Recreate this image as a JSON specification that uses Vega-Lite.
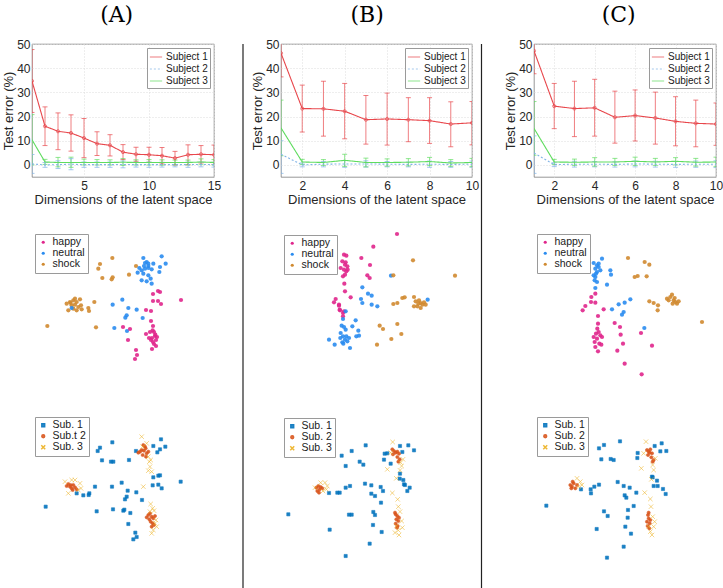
{
"$schema": "https://vega.github.io/schema/vega-lite/v6.json",
"background": "white",
"padding": {"left": 2, "top": 3, "right": 0, "bottom": 0},
"config": {
 "view": {"stroke": "#6a6a6a", "strokeWidth": 0.7},
 "axis": {"labelFont": "Liberation Sans", "titleFont": "Liberation Sans", "labelFontSize": 12, "titleFontSize": 13, "labelColor": "#262626", "titleColor": "#262626", "titleFontWeight": "normal", "gridColor": "#dcdcdc", "gridDash": [1, 2], "ticks": false, "domain": false, "labelPadding": 2, "titlePadding": 1},
 "axisX": {"labelPadding": 3, "titlePadding": 2},
 "legend": {"labelFont": "Liberation Sans", "labelColor": "#1a1a1a"},
 "title": {"font": "DejaVu Serif", "fontSize": 22, "fontWeight": "normal", "color": "#000000"}
},
"datasets": {
 "err": [
  {"p":"A","s":"Subject 1","d":1,"e":34.7,"lo":21.7,"hi":47.7},{"p":"A","s":"Subject 1","d":2,"e":16,"lo":8,"hi":24},{"p":"A","s":"Subject 1","d":3,"e":13.9,"lo":6.3,"hi":21.5},{"p":"A","s":"Subject 1","d":4,"e":13.2,"lo":5.7,"hi":20.7},{"p":"A","s":"Subject 1","d":5,"e":11.1,"lo":3,"hi":19.2},{"p":"A","s":"Subject 1","d":6,"e":8.8,"lo":3.9,"hi":13.7},{"p":"A","s":"Subject 1","d":7,"e":8.1,"lo":3.7,"hi":12.5},{"p":"A","s":"Subject 1","d":8,"e":5.3,"lo":2.2,"hi":8.4},{"p":"A","s":"Subject 1","d":9,"e":4.4,"lo":1.5,"hi":7.3},{"p":"A","s":"Subject 1","d":10,"e":4.2,"lo":1.1,"hi":7.3},{"p":"A","s":"Subject 1","d":11,"e":3.8,"lo":0.4,"hi":7.2},{"p":"A","s":"Subject 1","d":12,"e":2.8,"lo":0,"hi":5.6},{"p":"A","s":"Subject 1","d":13,"e":4.2,"lo":0.1,"hi":8.3},{"p":"A","s":"Subject 1","d":14,"e":4.4,"lo":0.8,"hi":8},{"p":"A","s":"Subject 1","d":15,"e":4.2,"lo":0.2,"hi":8.2},
  {"p":"A","s":"Subject 2","d":1,"e":0.4,"lo":-3.5,"hi":4.3},{"p":"A","s":"Subject 2","d":2,"e":0,"lo":-1,"hi":1},{"p":"A","s":"Subject 2","d":3,"e":0.1,"lo":-1.5,"hi":1.7},{"p":"A","s":"Subject 2","d":4,"e":0.3,"lo":-2,"hi":2.6},{"p":"A","s":"Subject 2","d":5,"e":0.1,"lo":-1,"hi":1.2},{"p":"A","s":"Subject 2","d":6,"e":0.1,"lo":-1,"hi":1.2},{"p":"A","s":"Subject 2","d":7,"e":0.1,"lo":-1,"hi":1.2},{"p":"A","s":"Subject 2","d":8,"e":0.2,"lo":-1.2,"hi":1.6},{"p":"A","s":"Subject 2","d":9,"e":0.1,"lo":-0.9,"hi":1.1},{"p":"A","s":"Subject 2","d":10,"e":0.1,"lo":-1,"hi":1.2},{"p":"A","s":"Subject 2","d":11,"e":0.1,"lo":-0.9,"hi":1.1},{"p":"A","s":"Subject 2","d":12,"e":0.1,"lo":-0.8,"hi":1},{"p":"A","s":"Subject 2","d":13,"e":0.1,"lo":-1,"hi":1.2},{"p":"A","s":"Subject 2","d":14,"e":0.2,"lo":-0.8,"hi":1.2},{"p":"A","s":"Subject 2","d":15,"e":0.1,"lo":-0.9,"hi":1.1},
  {"p":"A","s":"Subject 3","d":1,"e":10.4,"lo":0,"hi":20.8},{"p":"A","s":"Subject 3","d":2,"e":1.2,"lo":0.2,"hi":2.3},{"p":"A","s":"Subject 3","d":3,"e":1,"lo":-0.8,"hi":3.1},{"p":"A","s":"Subject 3","d":4,"e":1,"lo":-1,"hi":3.2},{"p":"A","s":"Subject 3","d":5,"e":1,"lo":0,"hi":2.4},{"p":"A","s":"Subject 3","d":6,"e":1,"lo":0,"hi":2.2},{"p":"A","s":"Subject 3","d":7,"e":1,"lo":0,"hi":2.1},{"p":"A","s":"Subject 3","d":8,"e":1.1,"lo":-0.2,"hi":2.6},{"p":"A","s":"Subject 3","d":9,"e":1,"lo":0,"hi":2.1},{"p":"A","s":"Subject 3","d":10,"e":1,"lo":0,"hi":2.2},{"p":"A","s":"Subject 3","d":11,"e":1,"lo":-0.1,"hi":2.1},{"p":"A","s":"Subject 3","d":12,"e":1,"lo":0,"hi":2},{"p":"A","s":"Subject 3","d":13,"e":1,"lo":0,"hi":2},{"p":"A","s":"Subject 3","d":14,"e":1.2,"lo":0.1,"hi":2.5},{"p":"A","s":"Subject 3","d":15,"e":1,"lo":0,"hi":2.2},
  {"p":"B","s":"Subject 1","d":1,"e":46.2,"lo":36.4,"hi":56},{"p":"B","s":"Subject 1","d":2,"e":23.3,"lo":13.6,"hi":33},{"p":"B","s":"Subject 1","d":3,"e":23.2,"lo":11.9,"hi":34.6},{"p":"B","s":"Subject 1","d":4,"e":22.2,"lo":10.8,"hi":33.7},{"p":"B","s":"Subject 1","d":5,"e":18.7,"lo":8.6,"hi":28.7},{"p":"B","s":"Subject 1","d":6,"e":19,"lo":8.2,"hi":29.7},{"p":"B","s":"Subject 1","d":7,"e":18.7,"lo":9.6,"hi":27.8},{"p":"B","s":"Subject 1","d":8,"e":18.3,"lo":8.9,"hi":27.8},{"p":"B","s":"Subject 1","d":9,"e":16.9,"lo":7.5,"hi":26.1},{"p":"B","s":"Subject 1","d":10,"e":17.4,"lo":8.3,"hi":26.2},
  {"p":"B","s":"Subject 2","d":1,"e":4.4,"lo":-3.5,"hi":10},{"p":"B","s":"Subject 2","d":2,"e":0,"lo":-0.8,"hi":0.8},{"p":"B","s":"Subject 2","d":3,"e":0.3,"lo":-0.8,"hi":1.4},{"p":"B","s":"Subject 2","d":4,"e":0.4,"lo":-1,"hi":1.8},{"p":"B","s":"Subject 2","d":5,"e":0.4,"lo":-0.9,"hi":1.7},{"p":"B","s":"Subject 2","d":6,"e":0.3,"lo":-0.8,"hi":1.4},{"p":"B","s":"Subject 2","d":7,"e":0.2,"lo":-0.8,"hi":1.2},{"p":"B","s":"Subject 2","d":8,"e":0.3,"lo":-1,"hi":1.6},{"p":"B","s":"Subject 2","d":9,"e":0.2,"lo":-1,"hi":1.4},{"p":"B","s":"Subject 2","d":10,"e":0.3,"lo":-1,"hi":1.6},
  {"p":"B","s":"Subject 3","d":1,"e":15.3,"lo":3.8,"hi":26.8},{"p":"B","s":"Subject 3","d":2,"e":1.2,"lo":0.2,"hi":2.3},{"p":"B","s":"Subject 3","d":3,"e":1,"lo":-0.2,"hi":2.2},{"p":"B","s":"Subject 3","d":4,"e":1.9,"lo":-0.6,"hi":4.4},{"p":"B","s":"Subject 3","d":5,"e":1,"lo":-0.8,"hi":2.8},{"p":"B","s":"Subject 3","d":6,"e":1,"lo":-0.5,"hi":2.5},{"p":"B","s":"Subject 3","d":7,"e":1.1,"lo":-0.4,"hi":2.6},{"p":"B","s":"Subject 3","d":8,"e":1.4,"lo":-0.3,"hi":3.1},{"p":"B","s":"Subject 3","d":9,"e":0.8,"lo":-0.6,"hi":2.2},{"p":"B","s":"Subject 3","d":10,"e":1,"lo":-0.7,"hi":2.7},
  {"p":"C","s":"Subject 1","d":1,"e":47.2,"lo":37.7,"hi":56.7},{"p":"C","s":"Subject 1","d":2,"e":24.3,"lo":15,"hi":33.7},{"p":"C","s":"Subject 1","d":3,"e":23.3,"lo":11.7,"hi":34.6},{"p":"C","s":"Subject 1","d":4,"e":23.6,"lo":11.9,"hi":35.4},{"p":"C","s":"Subject 1","d":5,"e":19.7,"lo":9,"hi":30.5},{"p":"C","s":"Subject 1","d":6,"e":20.4,"lo":9.9,"hi":31},{"p":"C","s":"Subject 1","d":7,"e":19.4,"lo":8.6,"hi":30.1},{"p":"C","s":"Subject 1","d":8,"e":18,"lo":7.9,"hi":28.2},{"p":"C","s":"Subject 1","d":9,"e":17.2,"lo":7.5,"hi":26.8},{"p":"C","s":"Subject 1","d":10,"e":16.9,"lo":8.1,"hi":25.6},
  {"p":"C","s":"Subject 2","d":1,"e":4.9,"lo":-3.5,"hi":12},{"p":"C","s":"Subject 2","d":2,"e":0.1,"lo":-0.7,"hi":0.9},{"p":"C","s":"Subject 2","d":3,"e":0.3,"lo":-0.9,"hi":1.5},{"p":"C","s":"Subject 2","d":4,"e":0.3,"lo":-0.8,"hi":1.4},{"p":"C","s":"Subject 2","d":5,"e":0.2,"lo":-0.9,"hi":1.3},{"p":"C","s":"Subject 2","d":6,"e":0.4,"lo":-0.8,"hi":1.6},{"p":"C","s":"Subject 2","d":7,"e":0.3,"lo":-0.9,"hi":1.5},{"p":"C","s":"Subject 2","d":8,"e":0.2,"lo":-1,"hi":1.4},{"p":"C","s":"Subject 2","d":9,"e":0.3,"lo":-1,"hi":1.6},{"p":"C","s":"Subject 2","d":10,"e":0.3,"lo":-1.1,"hi":1.7},
  {"p":"C","s":"Subject 3","d":1,"e":15.1,"lo":4,"hi":26.2},{"p":"C","s":"Subject 3","d":2,"e":1.2,"lo":0.2,"hi":2.3},{"p":"C","s":"Subject 3","d":3,"e":1.1,"lo":-0.2,"hi":2.4},{"p":"C","s":"Subject 3","d":4,"e":1.2,"lo":-0.5,"hi":3},{"p":"C","s":"Subject 3","d":5,"e":1.2,"lo":-0.2,"hi":2.7},{"p":"C","s":"Subject 3","d":6,"e":1.5,"lo":-0.2,"hi":3.2},{"p":"C","s":"Subject 3","d":7,"e":1.2,"lo":-0.2,"hi":2.7},{"p":"C","s":"Subject 3","d":8,"e":1.5,"lo":0,"hi":3},{"p":"C","s":"Subject 3","d":9,"e":1.1,"lo":-0.5,"hi":2.7},{"p":"C","s":"Subject 3","d":10,"e":1.2,"lo":-0.7,"hi":3.2}
 ],
 "emoA": [
  {"c":"shock","x":337,"y":168},{"c":"shock","x":300,"y":186},{"c":"shock","x":295,"y":200},{"c":"shock","x":307,"y":228},{"c":"shock","x":335,"y":232},{"c":"shock","x":338,"y":226},{"c":"shock","x":387,"y":218},{"c":"shock","x":408,"y":192},{"c":"shock","x":200,"y":305},{"c":"shock","x":210,"y":300},{"c":"shock","x":220,"y":295},{"c":"shock","x":225,"y":290},{"c":"shock","x":230,"y":300},{"c":"shock","x":215,"y":310},{"c":"shock","x":205,"y":325},{"c":"shock","x":220,"y":320},{"c":"shock","x":240,"y":292},{"c":"shock","x":243,"y":310},{"c":"shock","x":230,"y":325},{"c":"shock","x":245,"y":322},{"c":"shock","x":265,"y":318},{"c":"shock","x":267,"y":327},{"c":"shock","x":283,"y":300},{"c":"shock","x":142,"y":372},{"c":"shock","x":288,"y":376},{"c":"shock","x":212,"y":303},{"c":"shock","x":225,"y":308},{"c":"shock","x":235,"y":315},
  {"c":"neutral","x":430,"y":168},{"c":"neutral","x":485,"y":163},{"c":"neutral","x":440,"y":180},{"c":"neutral","x":445,"y":185},{"c":"neutral","x":435,"y":183},{"c":"neutral","x":460,"y":185},{"c":"neutral","x":497,"y":185},{"c":"neutral","x":418,"y":198},{"c":"neutral","x":425,"y":205},{"c":"neutral","x":435,"y":200},{"c":"neutral","x":445,"y":198},{"c":"neutral","x":455,"y":202},{"c":"neutral","x":480,"y":195},{"c":"neutral","x":478,"y":210},{"c":"neutral","x":413,"y":212},{"c":"neutral","x":430,"y":215},{"c":"neutral","x":445,"y":220},{"c":"neutral","x":452,"y":230},{"c":"neutral","x":440,"y":238},{"c":"neutral","x":425,"y":235},{"c":"neutral","x":455,"y":245},{"c":"neutral","x":445,"y":192},{"c":"neutral","x":432,"y":192},{"c":"neutral","x":367,"y":293},{"c":"neutral","x":338,"y":308},{"c":"neutral","x":385,"y":318},{"c":"neutral","x":410,"y":323},{"c":"neutral","x":380,"y":340},{"c":"neutral","x":376,"y":347},{"c":"neutral","x":428,"y":348},{"c":"neutral","x":343,"y":378},{"c":"neutral","x":381,"y":387},{"c":"neutral","x":215,"y":318},
  {"c":"happy","x":474,"y":267},{"c":"happy","x":459,"y":276},{"c":"happy","x":480,"y":270},{"c":"happy","x":543,"y":294},{"c":"happy","x":459,"y":297},{"c":"happy","x":474,"y":297},{"c":"happy","x":483,"y":306},{"c":"happy","x":438,"y":324},{"c":"happy","x":453,"y":327},{"c":"happy","x":453,"y":357},{"c":"happy","x":459,"y":372},{"c":"happy","x":369,"y":375},{"c":"happy","x":390,"y":381},{"c":"happy","x":438,"y":396},{"c":"happy","x":450,"y":390},{"c":"happy","x":462,"y":390},{"c":"happy","x":465,"y":402},{"c":"happy","x":456,"y":408},{"c":"happy","x":468,"y":414},{"c":"happy","x":453,"y":414},{"c":"happy","x":462,"y":426},{"c":"happy","x":456,"y":441},{"c":"happy","x":468,"y":432},{"c":"happy","x":384,"y":414},{"c":"happy","x":408,"y":444},{"c":"happy","x":411,"y":459},{"c":"happy","x":405,"y":471},{"c":"happy","x":447,"y":408},{"c":"happy","x":459,"y":420},{"c":"happy","x":471,"y":405},{"c":"happy","x":458,"y":385},{"c":"happy","x":466,"y":398}
 ],
 "emoB": [
  {"c":"happy","x":474,"y":93},{"c":"happy","x":403,"y":131},{"c":"happy","x":367,"y":165},{"c":"happy","x":393,"y":186},{"c":"happy","x":385,"y":217},{"c":"happy","x":392,"y":225},{"c":"happy","x":315,"y":155},{"c":"happy","x":322,"y":158},{"c":"happy","x":310,"y":175},{"c":"happy","x":318,"y":185},{"c":"happy","x":325,"y":190},{"c":"happy","x":305,"y":195},{"c":"happy","x":315,"y":200},{"c":"happy","x":322,"y":205},{"c":"happy","x":318,"y":215},{"c":"happy","x":312,"y":220},{"c":"happy","x":320,"y":178},{"c":"happy","x":326,"y":200},{"c":"happy","x":316,"y":242},{"c":"happy","x":318,"y":265},{"c":"happy","x":335,"y":283},{"c":"happy","x":290,"y":288},{"c":"happy","x":285,"y":298},{"c":"happy","x":300,"y":305},{"c":"happy","x":302,"y":320},{"c":"happy","x":315,"y":325},{"c":"happy","x":300,"y":308},{"c":"happy","x":303,"y":322},{"c":"happy","x":312,"y":330},{"c":"happy","x":312,"y":340},
  {"c":"neutral","x":456,"y":218},{"c":"neutral","x":370,"y":253},{"c":"neutral","x":387,"y":272},{"c":"neutral","x":398,"y":278},{"c":"neutral","x":366,"y":288},{"c":"neutral","x":370,"y":300},{"c":"neutral","x":398,"y":305},{"c":"neutral","x":415,"y":310},{"c":"neutral","x":566,"y":290},{"c":"neutral","x":320,"y":325},{"c":"neutral","x":312,"y":348},{"c":"neutral","x":350,"y":352},{"c":"neutral","x":308,"y":368},{"c":"neutral","x":315,"y":372},{"c":"neutral","x":320,"y":380},{"c":"neutral","x":305,"y":390},{"c":"neutral","x":312,"y":400},{"c":"neutral","x":322,"y":400},{"c":"neutral","x":330,"y":405},{"c":"neutral","x":318,"y":410},{"c":"neutral","x":325,"y":415},{"c":"neutral","x":310,"y":418},{"c":"neutral","x":358,"y":383},{"c":"neutral","x":352,"y":400},{"c":"neutral","x":360,"y":398},{"c":"neutral","x":270,"y":410},{"c":"neutral","x":287,"y":425},{"c":"neutral","x":313,"y":422},{"c":"neutral","x":333,"y":435},{"c":"neutral","x":304,"y":405},{"c":"neutral","x":340,"y":370},
  {"c":"shock","x":522,"y":172},{"c":"shock","x":648,"y":218},{"c":"shock","x":463,"y":217},{"c":"shock","x":525,"y":282},{"c":"shock","x":497,"y":283},{"c":"shock","x":490,"y":285},{"c":"shock","x":475,"y":300},{"c":"shock","x":463,"y":303},{"c":"shock","x":530,"y":295},{"c":"shock","x":540,"y":292},{"c":"shock","x":545,"y":300},{"c":"shock","x":550,"y":305},{"c":"shock","x":535,"y":310},{"c":"shock","x":555,"y":298},{"c":"shock","x":545,"y":315},{"c":"shock","x":525,"y":310},{"c":"shock","x":560,"y":305},{"c":"shock","x":538,"y":302},{"c":"shock","x":422,"y":368},{"c":"shock","x":432,"y":378},{"c":"shock","x":475,"y":363},{"c":"shock","x":487,"y":393},{"c":"shock","x":457,"y":408},{"c":"shock","x":414,"y":425}
 ],
 "emoC": [
  {"c":"neutral","x":360,"y":170},{"c":"neutral","x":335,"y":183},{"c":"neutral","x":345,"y":190},{"c":"neutral","x":350,"y":195},{"c":"neutral","x":340,"y":200},{"c":"neutral","x":355,"y":205},{"c":"neutral","x":345,"y":210},{"c":"neutral","x":335,"y":220},{"c":"neutral","x":340,"y":225},{"c":"neutral","x":338,"y":235},{"c":"neutral","x":345,"y":240},{"c":"neutral","x":340,"y":258},{"c":"neutral","x":320,"y":175},{"c":"neutral","x":385,"y":205},{"c":"neutral","x":387,"y":218},{"c":"neutral","x":375,"y":248},{"c":"neutral","x":318,"y":200},{"c":"neutral","x":445,"y":292},{"c":"neutral","x":428,"y":302},{"c":"neutral","x":410,"y":307},{"c":"neutral","x":390,"y":322},{"c":"neutral","x":425,"y":330},{"c":"neutral","x":420,"y":338},{"c":"neutral","x":487,"y":378},{"c":"neutral","x":350,"y":185},{"c":"neutral","x":342,"y":215},
  {"c":"happy","x":340,"y":275},{"c":"happy","x":328,"y":285},{"c":"happy","x":327,"y":300},{"c":"happy","x":340,"y":302},{"c":"happy","x":310,"y":312},{"c":"happy","x":302,"y":325},{"c":"happy","x":365,"y":322},{"c":"happy","x":348,"y":342},{"c":"happy","x":348,"y":365},{"c":"happy","x":398,"y":363},{"c":"happy","x":414,"y":375},{"c":"happy","x":416,"y":398},{"c":"happy","x":423,"y":425},{"c":"happy","x":406,"y":446},{"c":"happy","x":428,"y":485},{"c":"happy","x":479,"y":517},{"c":"happy","x":477,"y":393},{"c":"happy","x":510,"y":431},{"c":"happy","x":335,"y":405},{"c":"happy","x":342,"y":395},{"c":"happy","x":350,"y":390},{"c":"happy","x":355,"y":400},{"c":"happy","x":345,"y":410},{"c":"happy","x":360,"y":405},{"c":"happy","x":338,"y":420},{"c":"happy","x":352,"y":425},{"c":"happy","x":340,"y":435},{"c":"happy","x":348,"y":448},{"c":"happy","x":358,"y":428},{"c":"happy","x":346,"y":380},
  {"c":"shock","x":438,"y":168},{"c":"shock","x":488,"y":180},{"c":"shock","x":502,"y":188},{"c":"shock","x":458,"y":225},{"c":"shock","x":467,"y":222},{"c":"shock","x":494,"y":223},{"c":"shock","x":502,"y":298},{"c":"shock","x":515,"y":303},{"c":"shock","x":528,"y":310},{"c":"shock","x":527,"y":325},{"c":"shock","x":555,"y":290},{"c":"shock","x":565,"y":285},{"c":"shock","x":570,"y":278},{"c":"shock","x":575,"y":295},{"c":"shock","x":580,"y":300},{"c":"shock","x":585,"y":305},{"c":"shock","x":590,"y":298},{"c":"shock","x":560,"y":295},{"c":"shock","x":572,"y":305},{"c":"shock","x":578,"y":288},{"c":"shock","x":660,"y":360}
 ],
 "subA": [
  {"s":"Sub. 1","x":337,"y":187},{"s":"Sub. 1","x":300,"y":203},{"s":"Sub. 1","x":293,"y":213},{"s":"Sub. 1","x":306,"y":241},{"s":"Sub. 1","x":333,"y":245},{"s":"Sub. 1","x":340,"y":245},{"s":"Sub. 1","x":387,"y":240},{"s":"Sub. 1","x":408,"y":213},{"s":"Sub. 1","x":483,"y":178},{"s":"Sub. 1","x":460,"y":198},{"s":"Sub. 1","x":480,"y":208},{"s":"Sub. 1","x":496,"y":200},{"s":"Sub. 1","x":472,"y":217},{"s":"Sub. 1","x":460,"y":292},{"s":"Sub. 1","x":475,"y":287},{"s":"Sub. 1","x":480,"y":286},{"s":"Sub. 1","x":542,"y":305},{"s":"Sub. 1","x":458,"y":316},{"s":"Sub. 1","x":475,"y":314},{"s":"Sub. 1","x":485,"y":325},{"s":"Sub. 1","x":365,"y":308},{"s":"Sub. 1","x":336,"y":320},{"s":"Sub. 1","x":285,"y":320},{"s":"Sub. 1","x":268,"y":340},{"s":"Sub. 1","x":266,"y":345},{"s":"Sub. 1","x":250,"y":346},{"s":"Sub. 1","x":230,"y":340},{"s":"Sub. 1","x":383,"y":332},{"s":"Sub. 1","x":409,"y":337},{"s":"Sub. 1","x":380,"y":350},{"s":"Sub. 1","x":375,"y":358},{"s":"Sub. 1","x":426,"y":360},{"s":"Sub. 1","x":137,"y":380},{"s":"Sub. 1","x":290,"y":394},{"s":"Sub. 1","x":339,"y":388},{"s":"Sub. 1","x":370,"y":392},{"s":"Sub. 1","x":373,"y":389},{"s":"Sub. 1","x":391,"y":399},{"s":"Sub. 1","x":385,"y":432},{"s":"Sub. 1","x":406,"y":458},{"s":"Sub. 1","x":410,"y":471},{"s":"Sub. 1","x":400,"y":478},
  {"s":"Sub.t 2","x":430,"y":195},{"s":"Sub.t 2","x":435,"y":200},{"s":"Sub.t 2","x":425,"y":210},{"s":"Sub.t 2","x":420,"y":215},{"s":"Sub.t 2","x":432,"y":212},{"s":"Sub.t 2","x":440,"y":220},{"s":"Sub.t 2","x":445,"y":215},{"s":"Sub.t 2","x":438,"y":230},{"s":"Sub.t 2","x":428,"y":225},{"s":"Sub.t 2","x":415,"y":218},{"s":"Sub.t 2","x":437,"y":205},{"s":"Sub.t 2","x":200,"y":318},{"s":"Sub.t 2","x":205,"y":312},{"s":"Sub.t 2","x":210,"y":320},{"s":"Sub.t 2","x":215,"y":325},{"s":"Sub.t 2","x":220,"y":315},{"s":"Sub.t 2","x":225,"y":322},{"s":"Sub.t 2","x":212,"y":315},{"s":"Sub.t 2","x":230,"y":328},{"s":"Sub.t 2","x":218,"y":330},{"s":"Sub.t 2","x":445,"y":405},{"s":"Sub.t 2","x":450,"y":400},{"s":"Sub.t 2","x":455,"y":410},{"s":"Sub.t 2","x":460,"y":415},{"s":"Sub.t 2","x":448,"y":418},{"s":"Sub.t 2","x":452,"y":425},{"s":"Sub.t 2","x":458,"y":430},{"s":"Sub.t 2","x":462,"y":435},{"s":"Sub.t 2","x":455,"y":440},{"s":"Sub.t 2","x":465,"y":408},{"s":"Sub.t 2","x":440,"y":412},
  {"s":"Sub. 3","x":425,"y":170},{"s":"Sub. 3","x":445,"y":230},{"s":"Sub. 3","x":448,"y":245},{"s":"Sub. 3","x":450,"y":260},{"s":"Sub. 3","x":455,"y":275},{"s":"Sub. 3","x":445,"y":272},{"s":"Sub. 3","x":452,"y":240},{"s":"Sub. 3","x":440,"y":190},{"s":"Sub. 3","x":428,"y":200},{"s":"Sub. 3","x":195,"y":305},{"s":"Sub. 3","x":225,"y":300},{"s":"Sub. 3","x":240,"y":310},{"s":"Sub. 3","x":205,"y":340},{"s":"Sub. 3","x":235,"y":330},{"s":"Sub. 3","x":243,"y":325},{"s":"Sub. 3","x":215,"y":300},{"s":"Sub. 3","x":452,"y":372},{"s":"Sub. 3","x":458,"y":385},{"s":"Sub. 3","x":450,"y":395},{"s":"Sub. 3","x":462,"y":392},{"s":"Sub. 3","x":465,"y":430},{"s":"Sub. 3","x":460,"y":450},{"s":"Sub. 3","x":455,"y":460},{"s":"Sub. 3","x":470,"y":440},{"s":"Sub. 3","x":468,"y":420},{"s":"Sub. 3","x":430,"y":320}
 ],
 "subB": [
  {"s":"Sub. 1","x":380,"y":193},{"s":"Sub. 1","x":338,"y":210},{"s":"Sub. 1","x":308,"y":224},{"s":"Sub. 1","x":483,"y":195},{"s":"Sub. 1","x":508,"y":193},{"s":"Sub. 1","x":525,"y":208},{"s":"Sub. 1","x":490,"y":213},{"s":"Sub. 1","x":437,"y":218},{"s":"Sub. 1","x":445,"y":217},{"s":"Sub. 1","x":435,"y":236},{"s":"Sub. 1","x":455,"y":248},{"s":"Sub. 1","x":362,"y":242},{"s":"Sub. 1","x":373,"y":251},{"s":"Sub. 1","x":320,"y":255},{"s":"Sub. 1","x":482,"y":293},{"s":"Sub. 1","x":493,"y":297},{"s":"Sub. 1","x":495,"y":310},{"s":"Sub. 1","x":498,"y":312},{"s":"Sub. 1","x":512,"y":320},{"s":"Sub. 1","x":505,"y":330},{"s":"Sub. 1","x":378,"y":308},{"s":"Sub. 1","x":397,"y":313},{"s":"Sub. 1","x":425,"y":318},{"s":"Sub. 1","x":432,"y":330},{"s":"Sub. 1","x":333,"y":315},{"s":"Sub. 1","x":320,"y":320},{"s":"Sub. 1","x":302,"y":335},{"s":"Sub. 1","x":295,"y":335},{"s":"Sub. 1","x":270,"y":336},{"s":"Sub. 1","x":397,"y":338},{"s":"Sub. 1","x":408,"y":345},{"s":"Sub. 1","x":426,"y":365},{"s":"Sub. 1","x":148,"y":400},{"s":"Sub. 1","x":330,"y":401},{"s":"Sub. 1","x":338,"y":401},{"s":"Sub. 1","x":403,"y":393},{"s":"Sub. 1","x":408,"y":402},{"s":"Sub. 1","x":402,"y":432},{"s":"Sub. 1","x":272,"y":446},{"s":"Sub. 1","x":428,"y":453},{"s":"Sub. 1","x":392,"y":488},{"s":"Sub. 1","x":320,"y":525},{"s":"Sub. 1","x":483,"y":278},
  {"s":"Sub. 2","x":460,"y":205},{"s":"Sub. 2","x":465,"y":210},{"s":"Sub. 2","x":470,"y":215},{"s":"Sub. 2","x":475,"y":212},{"s":"Sub. 2","x":480,"y":218},{"s":"Sub. 2","x":462,"y":220},{"s":"Sub. 2","x":475,"y":228},{"s":"Sub. 2","x":482,"y":235},{"s":"Sub. 2","x":478,"y":242},{"s":"Sub. 2","x":232,"y":320},{"s":"Sub. 2","x":238,"y":315},{"s":"Sub. 2","x":242,"y":325},{"s":"Sub. 2","x":235,"y":330},{"s":"Sub. 2","x":245,"y":318},{"s":"Sub. 2","x":250,"y":322},{"s":"Sub. 2","x":240,"y":335},{"s":"Sub. 2","x":470,"y":400},{"s":"Sub. 2","x":475,"y":405},{"s":"Sub. 2","x":472,"y":415},{"s":"Sub. 2","x":478,"y":420},{"s":"Sub. 2","x":470,"y":428},{"s":"Sub. 2","x":476,"y":435},{"s":"Sub. 2","x":480,"y":410},{"s":"Sub. 2","x":474,"y":440},{"s":"Sub. 2","x":468,"y":395},
  {"s":"Sub. 3","x":461,"y":183},{"s":"Sub. 3","x":485,"y":245},{"s":"Sub. 3","x":483,"y":268},{"s":"Sub. 3","x":445,"y":265},{"s":"Sub. 3","x":472,"y":292},{"s":"Sub. 3","x":488,"y":255},{"s":"Sub. 3","x":492,"y":235},{"s":"Sub. 3","x":455,"y":215},{"s":"Sub. 3","x":228,"y":320},{"s":"Sub. 3","x":258,"y":305},{"s":"Sub. 3","x":265,"y":315},{"s":"Sub. 3","x":262,"y":325},{"s":"Sub. 3","x":245,"y":305},{"s":"Sub. 3","x":252,"y":330},{"s":"Sub. 3","x":460,"y":336},{"s":"Sub. 3","x":476,"y":355},{"s":"Sub. 3","x":478,"y":377},{"s":"Sub. 3","x":483,"y":392},{"s":"Sub. 3","x":468,"y":455},{"s":"Sub. 3","x":480,"y":462},{"s":"Sub. 3","x":490,"y":440},{"s":"Sub. 3","x":488,"y":420},{"s":"Sub. 3","x":478,"y":448},{"s":"Sub. 3","x":472,"y":435}
 ],
 "subC": [
  {"s":"Sub. 1","x":414,"y":184},{"s":"Sub. 1","x":366,"y":195},{"s":"Sub. 1","x":351,"y":205},{"s":"Sub. 1","x":518,"y":198},{"s":"Sub. 1","x":539,"y":190},{"s":"Sub. 1","x":535,"y":214},{"s":"Sub. 1","x":553,"y":213},{"s":"Sub. 1","x":467,"y":219},{"s":"Sub. 1","x":466,"y":234},{"s":"Sub. 1","x":358,"y":238},{"s":"Sub. 1","x":386,"y":237},{"s":"Sub. 1","x":395,"y":240},{"s":"Sub. 1","x":512,"y":292},{"s":"Sub. 1","x":525,"y":302},{"s":"Sub. 1","x":515,"y":318},{"s":"Sub. 1","x":527,"y":318},{"s":"Sub. 1","x":543,"y":327},{"s":"Sub. 1","x":551,"y":342},{"s":"Sub. 1","x":407,"y":306},{"s":"Sub. 1","x":425,"y":318},{"s":"Sub. 1","x":443,"y":323},{"s":"Sub. 1","x":463,"y":338},{"s":"Sub. 1","x":428,"y":346},{"s":"Sub. 1","x":433,"y":353},{"s":"Sub. 1","x":351,"y":314},{"s":"Sub. 1","x":337,"y":320},{"s":"Sub. 1","x":326,"y":328},{"s":"Sub. 1","x":327,"y":340},{"s":"Sub. 1","x":297,"y":328},{"s":"Sub. 1","x":455,"y":378},{"s":"Sub. 1","x":438,"y":390},{"s":"Sub. 1","x":193,"y":377},{"s":"Sub. 1","x":366,"y":394},{"s":"Sub. 1","x":377,"y":408},{"s":"Sub. 1","x":437,"y":413},{"s":"Sub. 1","x":430,"y":440},{"s":"Sub. 1","x":447,"y":461},{"s":"Sub. 1","x":344,"y":447},{"s":"Sub. 1","x":425,"y":500},{"s":"Sub. 1","x":375,"y":533},{"s":"Sub. 1","x":510,"y":290},
  {"s":"Sub. 2","x":495,"y":210},{"s":"Sub. 2","x":500,"y":215},{"s":"Sub. 2","x":505,"y":208},{"s":"Sub. 2","x":510,"y":220},{"s":"Sub. 2","x":498,"y":225},{"s":"Sub. 2","x":508,"y":232},{"s":"Sub. 2","x":515,"y":240},{"s":"Sub. 2","x":512,"y":245},{"s":"Sub. 2","x":503,"y":218},{"s":"Sub. 2","x":265,"y":315},{"s":"Sub. 2","x":270,"y":320},{"s":"Sub. 2","x":275,"y":310},{"s":"Sub. 2","x":280,"y":325},{"s":"Sub. 2","x":268,"y":325},{"s":"Sub. 2","x":285,"y":315},{"s":"Sub. 2","x":272,"y":305},{"s":"Sub. 2","x":498,"y":405},{"s":"Sub. 2","x":500,"y":415},{"s":"Sub. 2","x":495,"y":425},{"s":"Sub. 2","x":503,"y":430},{"s":"Sub. 2","x":497,"y":438},{"s":"Sub. 2","x":502,"y":445},{"s":"Sub. 2","x":500,"y":398},{"s":"Sub. 2","x":505,"y":420},
  {"s":"Sub. 3","x":492,"y":185},{"s":"Sub. 3","x":478,"y":265},{"s":"Sub. 3","x":512,"y":255},{"s":"Sub. 3","x":515,"y":270},{"s":"Sub. 3","x":508,"y":298},{"s":"Sub. 3","x":520,"y":235},{"s":"Sub. 3","x":485,"y":220},{"s":"Sub. 3","x":285,"y":295},{"s":"Sub. 3","x":295,"y":305},{"s":"Sub. 3","x":300,"y":315},{"s":"Sub. 3","x":290,"y":320},{"s":"Sub. 3","x":488,"y":338},{"s":"Sub. 3","x":505,"y":357},{"s":"Sub. 3","x":507,"y":380},{"s":"Sub. 3","x":505,"y":455},{"s":"Sub. 3","x":510,"y":465},{"s":"Sub. 3","x":515,"y":440},{"s":"Sub. 3","x":518,"y":425},{"s":"Sub. 3","x":512,"y":410},{"s":"Sub. 3","x":500,"y":440}
 ]
},
"spacing": 0,
"resolve": {"scale": {"x": "independent", "y": "independent", "color": "independent", "fill": "independent", "stroke": "independent", "shape": "independent", "strokeDash": "independent"}, "legend": {"color": "independent", "fill": "independent", "stroke": "independent", "shape": "independent", "strokeDash": "independent"}},
"hconcat": [
 {"spacing": 24,
  "resolve": {"scale": {"x": "independent", "y": "independent", "color": "independent", "fill": "independent", "stroke": "independent", "shape": "independent", "strokeDash": "independent"}, "legend": {"color": "independent", "fill": "independent", "stroke": "independent", "shape": "independent", "strokeDash": "independent"}},
  "vconcat": [
  {"width": 182, "height": 133,
   "title": {"text": "(A)", "anchor": "middle", "frame": "bounds", "dx": 5, "offset": 11},
   "data": {"name": "err"}, "transform": [{"filter": "datum.p == 'A'"}],
   "encoding": {
    "x": {"field": "d", "type": "quantitative", "title": "Dimensions of the latent space", "scale": {"domain": [1, 15], "nice": false, "zero": false}, "axis": {"values": [5, 10, 15], "labelFlush": false, "grid": true}},
    "color": {"field": "s", "type": "nominal", "title": null, "scale": {"domain": ["Subject 1", "Subject 2", "Subject 3"], "range": ["#e8474c", "#80b3e6", "#5fdc5f"]}, "legend": {"orient": "top-right", "offset": 4, "symbolType": "stroke", "symbolSize": 150, "symbolStrokeWidth": 1.2, "labelFontSize": 10, "strokeColor": "#9a9a9a", "fillColor": "#ffffff", "padding": 2, "rowPadding": 0, "labelOffset": 3}}
   },
   "layer": [
    {"mark": {"type": "rule", "clip": true, "opacity": 0.7}, "encoding": {"y": {"field": "lo", "type": "quantitative", "title": "Test error (%)", "scale": {"domain": [-5, 50], "nice": false, "zero": false}, "axis": {"values": [0, 10, 20, 30, 40, 50], "grid": true, "labelOverlap": false}}, "y2": {"field": "hi"}}},
    {"mark": {"type": "tick", "orient": "horizontal", "size": 5, "thickness": 1, "clip": true, "opacity": 0.7}, "encoding": {"y": {"field": "lo", "type": "quantitative", "title": "Test error (%)", "scale": {"domain": [-5, 50], "nice": false, "zero": false}, "axis": {"values": [0, 10, 20, 30, 40, 50], "grid": true, "labelOverlap": false}}}},
    {"mark": {"type": "tick", "orient": "horizontal", "size": 5, "thickness": 1, "clip": true, "opacity": 0.7}, "encoding": {"y": {"field": "hi", "type": "quantitative", "title": "Test error (%)", "scale": {"domain": [-5, 50], "nice": false, "zero": false}, "axis": {"values": [0, 10, 20, 30, 40, 50], "grid": true, "labelOverlap": false}}}},
    {"mark": {"type": "line", "strokeWidth": 1.1, "clip": true}, "encoding": {"y": {"field": "e", "type": "quantitative", "title": "Test error (%)", "scale": {"domain": [-5, 50], "nice": false, "zero": false}, "axis": {"values": [0, 10, 20, 30, 40, 50], "grid": true, "labelOverlap": false}}, "strokeDash": {"field": "s", "type": "nominal", "title": null, "scale": {"domain": ["Subject 1", "Subject 2", "Subject 3"], "range": [[1, 0], [2, 2], [1, 0]]}}}},
    {"transform": [{"filter": "datum.s == 'Subject 1'"}], "mark": {"type": "point", "shape": "circle", "size": 10, "filled": false, "strokeWidth": 1, "clip": true}, "encoding": {"y": {"field": "e", "type": "quantitative", "title": "Test error (%)", "scale": {"domain": [-5, 50], "nice": false, "zero": false}, "axis": {"values": [0, 10, 20, 30, 40, 50], "grid": true, "labelOverlap": false}}}}
   ]
  },
  {"width": 182, "height": 159, "view": {"stroke": null},
   "data": {"name": "emoA"},
   "mark": {"type": "circle", "size": 18, "opacity": 0.9},
   "encoding": {
    "x": {"field": "x", "type": "quantitative", "scale": {"domain": [96, 642], "nice": false, "zero": false}, "axis": null},
    "y": {"field": "y", "type": "quantitative", "scale": {"domain": [87, 564], "nice": false, "zero": false, "reverse": true}, "axis": null},
    "color": {"field": "c", "type": "nominal", "title": null, "scale": {"domain": ["happy", "neutral", "shock"], "range": ["#e0268c", "#2a8cf0", "#d08a30"]}, "legend": {"orient": "top-left", "offset": 3, "symbolType": "circle", "symbolSize": 10, "labelFontSize": 10.5, "strokeColor": "#9a9a9a", "fillColor": "#ffffff", "padding": 3, "rowPadding": 0, "labelOffset": 4, "symbolOpacity": 1}}
   }
  },
  {"width": 182, "height": 150, "view": {"stroke": null},
   "data": {"name": "subA"},
   "mark": {"type": "point", "filled": true, "strokeWidth": 0.6, "opacity": 0.9, "size": 10},
   "encoding": {
    "x": {"field": "x", "type": "quantitative", "scale": {"domain": [96, 642], "nice": false, "zero": false}, "axis": null},
    "y": {"field": "y", "type": "quantitative", "scale": {"domain": [102, 552], "nice": false, "zero": false, "reverse": true}, "axis": null},
    "shape": {"field": "s", "type": "nominal", "title": null, "scale": {"domain": ["Sub. 1", "Sub.t 2", "Sub. 3"], "range": ["square", "circle", "M-1.4,-1.4L1.4,1.4M1.4,-1.4L-1.4,1.4"]}, "legend": {"orient": "top-left", "offset": 3, "symbolSize": 8, "labelFontSize": 10.5, "strokeColor": "#9a9a9a", "fillColor": "#ffffff", "padding": 3, "rowPadding": 0, "labelOffset": 4}},
    "fill": {"field": "s", "type": "nominal", "title": null, "scale": {"domain": ["Sub. 1", "Sub.t 2", "Sub. 3"], "range": ["#0072bd", "#d95319", "#edb120"]}},
    "stroke": {"field": "s", "type": "nominal", "title": null, "scale": {"domain": ["Sub. 1", "Sub.t 2", "Sub. 3"], "range": ["#0072bd", "#d95319", "#edb120"]}}
   }
  }
 ]},
 {"width": 29, "height": 585, "view": {"stroke": null}, "data": {"values": [{}]},
  "mark": {"type": "rule", "color": "#222222", "strokeWidth": 1.2},
  "encoding": {"x": {"datum": 21, "type": "quantitative", "scale": {"domain": [0, 29]}, "axis": null}}},
 {"spacing": 24,
  "resolve": {"scale": {"x": "independent", "y": "independent", "color": "independent", "fill": "independent", "stroke": "independent", "shape": "independent", "strokeDash": "independent"}, "legend": {"color": "independent", "fill": "independent", "stroke": "independent", "shape": "independent", "strokeDash": "independent"}},
  "vconcat": [
  {"width": 191, "height": 133,
   "title": {"text": "(B)", "anchor": "middle", "frame": "bounds", "dx": 2, "offset": 11},
   "data": {"name": "err"}, "transform": [{"filter": "datum.p == 'B'"}],
   "encoding": {
    "x": {"field": "d", "type": "quantitative", "title": "Dimensions of the latent space", "scale": {"domain": [1, 10], "nice": false, "zero": false}, "axis": {"values": [2, 4, 6, 8, 10], "labelFlush": false, "grid": true}},
    "color": {"field": "s", "type": "nominal", "title": null, "scale": {"domain": ["Subject 1", "Subject 2", "Subject 3"], "range": ["#e8474c", "#80b3e6", "#5fdc5f"]}, "legend": {"orient": "top-right", "offset": 4, "symbolType": "stroke", "symbolSize": 150, "symbolStrokeWidth": 1.2, "labelFontSize": 10, "strokeColor": "#9a9a9a", "fillColor": "#ffffff", "padding": 2, "rowPadding": 0, "labelOffset": 3}}
   },
   "layer": [
    {"mark": {"type": "rule", "clip": true, "opacity": 0.7}, "encoding": {"y": {"field": "lo", "type": "quantitative", "title": "Test error (%)", "scale": {"domain": [-5, 50], "nice": false, "zero": false}, "axis": {"values": [0, 10, 20, 30, 40, 50], "grid": true, "labelOverlap": false}}, "y2": {"field": "hi"}}},
    {"mark": {"type": "tick", "orient": "horizontal", "size": 5, "thickness": 1, "clip": true, "opacity": 0.7}, "encoding": {"y": {"field": "lo", "type": "quantitative", "title": "Test error (%)", "scale": {"domain": [-5, 50], "nice": false, "zero": false}, "axis": {"values": [0, 10, 20, 30, 40, 50], "grid": true, "labelOverlap": false}}}},
    {"mark": {"type": "tick", "orient": "horizontal", "size": 5, "thickness": 1, "clip": true, "opacity": 0.7}, "encoding": {"y": {"field": "hi", "type": "quantitative", "title": "Test error (%)", "scale": {"domain": [-5, 50], "nice": false, "zero": false}, "axis": {"values": [0, 10, 20, 30, 40, 50], "grid": true, "labelOverlap": false}}}},
    {"mark": {"type": "line", "strokeWidth": 1.1, "clip": true}, "encoding": {"y": {"field": "e", "type": "quantitative", "title": "Test error (%)", "scale": {"domain": [-5, 50], "nice": false, "zero": false}, "axis": {"values": [0, 10, 20, 30, 40, 50], "grid": true, "labelOverlap": false}}, "strokeDash": {"field": "s", "type": "nominal", "title": null, "scale": {"domain": ["Subject 1", "Subject 2", "Subject 3"], "range": [[1, 0], [2, 2], [1, 0]]}}}},
    {"transform": [{"filter": "datum.s == 'Subject 1'"}], "mark": {"type": "point", "shape": "circle", "size": 10, "filled": false, "strokeWidth": 1, "clip": true}, "encoding": {"y": {"field": "e", "type": "quantitative", "title": "Test error (%)", "scale": {"domain": [-5, 50], "nice": false, "zero": false}, "axis": {"values": [0, 10, 20, 30, 40, 50], "grid": true, "labelOverlap": false}}}}
   ]
  },
  {"width": 191, "height": 159, "view": {"stroke": null},
   "data": {"name": "emoB"},
   "mark": {"type": "circle", "size": 18, "opacity": 0.9},
   "encoding": {
    "x": {"field": "x", "type": "quantitative", "scale": {"domain": [126, 699], "nice": false, "zero": false}, "axis": null},
    "y": {"field": "y", "type": "quantitative", "scale": {"domain": [87, 564], "nice": false, "zero": false, "reverse": true}, "axis": null},
    "color": {"field": "c", "type": "nominal", "title": null, "scale": {"domain": ["happy", "neutral", "shock"], "range": ["#e0268c", "#2a8cf0", "#d08a30"]}, "legend": {"orient": "top-left", "offset": 3, "symbolType": "circle", "symbolSize": 10, "labelFontSize": 10.5, "strokeColor": "#9a9a9a", "fillColor": "#ffffff", "padding": 3, "rowPadding": 0, "labelOffset": 4, "symbolOpacity": 1}}
   }
  },
  {"width": 191, "height": 150, "view": {"stroke": null},
   "data": {"name": "subB"},
   "mark": {"type": "point", "filled": true, "strokeWidth": 0.6, "opacity": 0.9, "size": 10},
   "encoding": {
    "x": {"field": "x", "type": "quantitative", "scale": {"domain": [126, 699], "nice": false, "zero": false}, "axis": null},
    "y": {"field": "y", "type": "quantitative", "scale": {"domain": [102, 552], "nice": false, "zero": false, "reverse": true}, "axis": null},
    "shape": {"field": "s", "type": "nominal", "title": null, "scale": {"domain": ["Sub. 1", "Sub. 2", "Sub. 3"], "range": ["square", "circle", "M-1.4,-1.4L1.4,1.4M1.4,-1.4L-1.4,1.4"]}, "legend": {"orient": "top-left", "offset": 3, "symbolSize": 8, "labelFontSize": 10.5, "strokeColor": "#9a9a9a", "fillColor": "#ffffff", "padding": 3, "rowPadding": 0, "labelOffset": 4}},
    "fill": {"field": "s", "type": "nominal", "title": null, "scale": {"domain": ["Sub. 1", "Sub. 2", "Sub. 3"], "range": ["#0072bd", "#d95319", "#edb120"]}},
    "stroke": {"field": "s", "type": "nominal", "title": null, "scale": {"domain": ["Sub. 1", "Sub. 2", "Sub. 3"], "range": ["#0072bd", "#d95319", "#edb120"]}}
   }
  }
 ]},
 {"width": 15, "height": 585, "view": {"stroke": null}, "data": {"values": [{}]},
  "mark": {"type": "rule", "color": "#222222", "strokeWidth": 1.2},
  "encoding": {"x": {"datum": -7.5, "type": "quantitative", "scale": {"domain": [0, 15]}, "axis": null}}},
 {"spacing": 24,
  "resolve": {"scale": {"x": "independent", "y": "independent", "color": "independent", "fill": "independent", "stroke": "independent", "shape": "independent", "strokeDash": "independent"}, "legend": {"color": "independent", "fill": "independent", "stroke": "independent", "shape": "independent", "strokeDash": "independent"}},
  "vconcat": [
  {"width": 182, "height": 133,
   "title": {"text": "(C)", "anchor": "middle", "frame": "bounds", "dx": 5, "offset": 11},
   "data": {"name": "err"}, "transform": [{"filter": "datum.p == 'C'"}],
   "encoding": {
    "x": {"field": "d", "type": "quantitative", "title": "Dimensions of the latent space", "scale": {"domain": [1, 10], "nice": false, "zero": false}, "axis": {"values": [2, 4, 6, 8, 10], "labelFlush": false, "grid": true}},
    "color": {"field": "s", "type": "nominal", "title": null, "scale": {"domain": ["Subject 1", "Subject 2", "Subject 3"], "range": ["#e8474c", "#80b3e6", "#5fdc5f"]}, "legend": {"orient": "top-right", "offset": 4, "symbolType": "stroke", "symbolSize": 150, "symbolStrokeWidth": 1.2, "labelFontSize": 10, "strokeColor": "#9a9a9a", "fillColor": "#ffffff", "padding": 2, "rowPadding": 0, "labelOffset": 3}}
   },
   "layer": [
    {"mark": {"type": "rule", "clip": true, "opacity": 0.7}, "encoding": {"y": {"field": "lo", "type": "quantitative", "title": "Test error (%)", "scale": {"domain": [-5, 50], "nice": false, "zero": false}, "axis": {"values": [0, 10, 20, 30, 40, 50], "grid": true, "labelOverlap": false}}, "y2": {"field": "hi"}}},
    {"mark": {"type": "tick", "orient": "horizontal", "size": 5, "thickness": 1, "clip": true, "opacity": 0.7}, "encoding": {"y": {"field": "lo", "type": "quantitative", "title": "Test error (%)", "scale": {"domain": [-5, 50], "nice": false, "zero": false}, "axis": {"values": [0, 10, 20, 30, 40, 50], "grid": true, "labelOverlap": false}}}},
    {"mark": {"type": "tick", "orient": "horizontal", "size": 5, "thickness": 1, "clip": true, "opacity": 0.7}, "encoding": {"y": {"field": "hi", "type": "quantitative", "title": "Test error (%)", "scale": {"domain": [-5, 50], "nice": false, "zero": false}, "axis": {"values": [0, 10, 20, 30, 40, 50], "grid": true, "labelOverlap": false}}}},
    {"mark": {"type": "line", "strokeWidth": 1.1, "clip": true}, "encoding": {"y": {"field": "e", "type": "quantitative", "title": "Test error (%)", "scale": {"domain": [-5, 50], "nice": false, "zero": false}, "axis": {"values": [0, 10, 20, 30, 40, 50], "grid": true, "labelOverlap": false}}, "strokeDash": {"field": "s", "type": "nominal", "title": null, "scale": {"domain": ["Subject 1", "Subject 2", "Subject 3"], "range": [[1, 0], [2, 2], [1, 0]]}}}},
    {"transform": [{"filter": "datum.s == 'Subject 1'"}], "mark": {"type": "point", "shape": "circle", "size": 10, "filled": false, "strokeWidth": 1, "clip": true}, "encoding": {"y": {"field": "e", "type": "quantitative", "title": "Test error (%)", "scale": {"domain": [-5, 50], "nice": false, "zero": false}, "axis": {"values": [0, 10, 20, 30, 40, 50], "grid": true, "labelOverlap": false}}}}
   ]
  },
  {"width": 182, "height": 159, "view": {"stroke": null},
   "data": {"name": "emoC"},
   "mark": {"type": "circle", "size": 18, "opacity": 0.9},
   "encoding": {
    "x": {"field": "x", "type": "quantitative", "scale": {"domain": [156, 702], "nice": false, "zero": false}, "axis": null},
    "y": {"field": "y", "type": "quantitative", "scale": {"domain": [87, 564], "nice": false, "zero": false, "reverse": true}, "axis": null},
    "color": {"field": "c", "type": "nominal", "title": null, "scale": {"domain": ["happy", "neutral", "shock"], "range": ["#e0268c", "#2a8cf0", "#d08a30"]}, "legend": {"orient": "top-left", "offset": 3, "symbolType": "circle", "symbolSize": 10, "labelFontSize": 10.5, "strokeColor": "#9a9a9a", "fillColor": "#ffffff", "padding": 3, "rowPadding": 0, "labelOffset": 4, "symbolOpacity": 1}}
   }
  },
  {"width": 182, "height": 150, "view": {"stroke": null},
   "data": {"name": "subC"},
   "mark": {"type": "point", "filled": true, "strokeWidth": 0.6, "opacity": 0.9, "size": 10},
   "encoding": {
    "x": {"field": "x", "type": "quantitative", "scale": {"domain": [156, 702], "nice": false, "zero": false}, "axis": null},
    "y": {"field": "y", "type": "quantitative", "scale": {"domain": [102, 552], "nice": false, "zero": false, "reverse": true}, "axis": null},
    "shape": {"field": "s", "type": "nominal", "title": null, "scale": {"domain": ["Sub. 1", "Sub. 2", "Sub. 3"], "range": ["square", "circle", "M-1.4,-1.4L1.4,1.4M1.4,-1.4L-1.4,1.4"]}, "legend": {"orient": "top-left", "offset": 3, "symbolSize": 8, "labelFontSize": 10.5, "strokeColor": "#9a9a9a", "fillColor": "#ffffff", "padding": 3, "rowPadding": 0, "labelOffset": 4}},
    "fill": {"field": "s", "type": "nominal", "title": null, "scale": {"domain": ["Sub. 1", "Sub. 2", "Sub. 3"], "range": ["#0072bd", "#d95319", "#edb120"]}},
    "stroke": {"field": "s", "type": "nominal", "title": null, "scale": {"domain": ["Sub. 1", "Sub. 2", "Sub. 3"], "range": ["#0072bd", "#d95319", "#edb120"]}}
   }
  }
 ]}
]
}
